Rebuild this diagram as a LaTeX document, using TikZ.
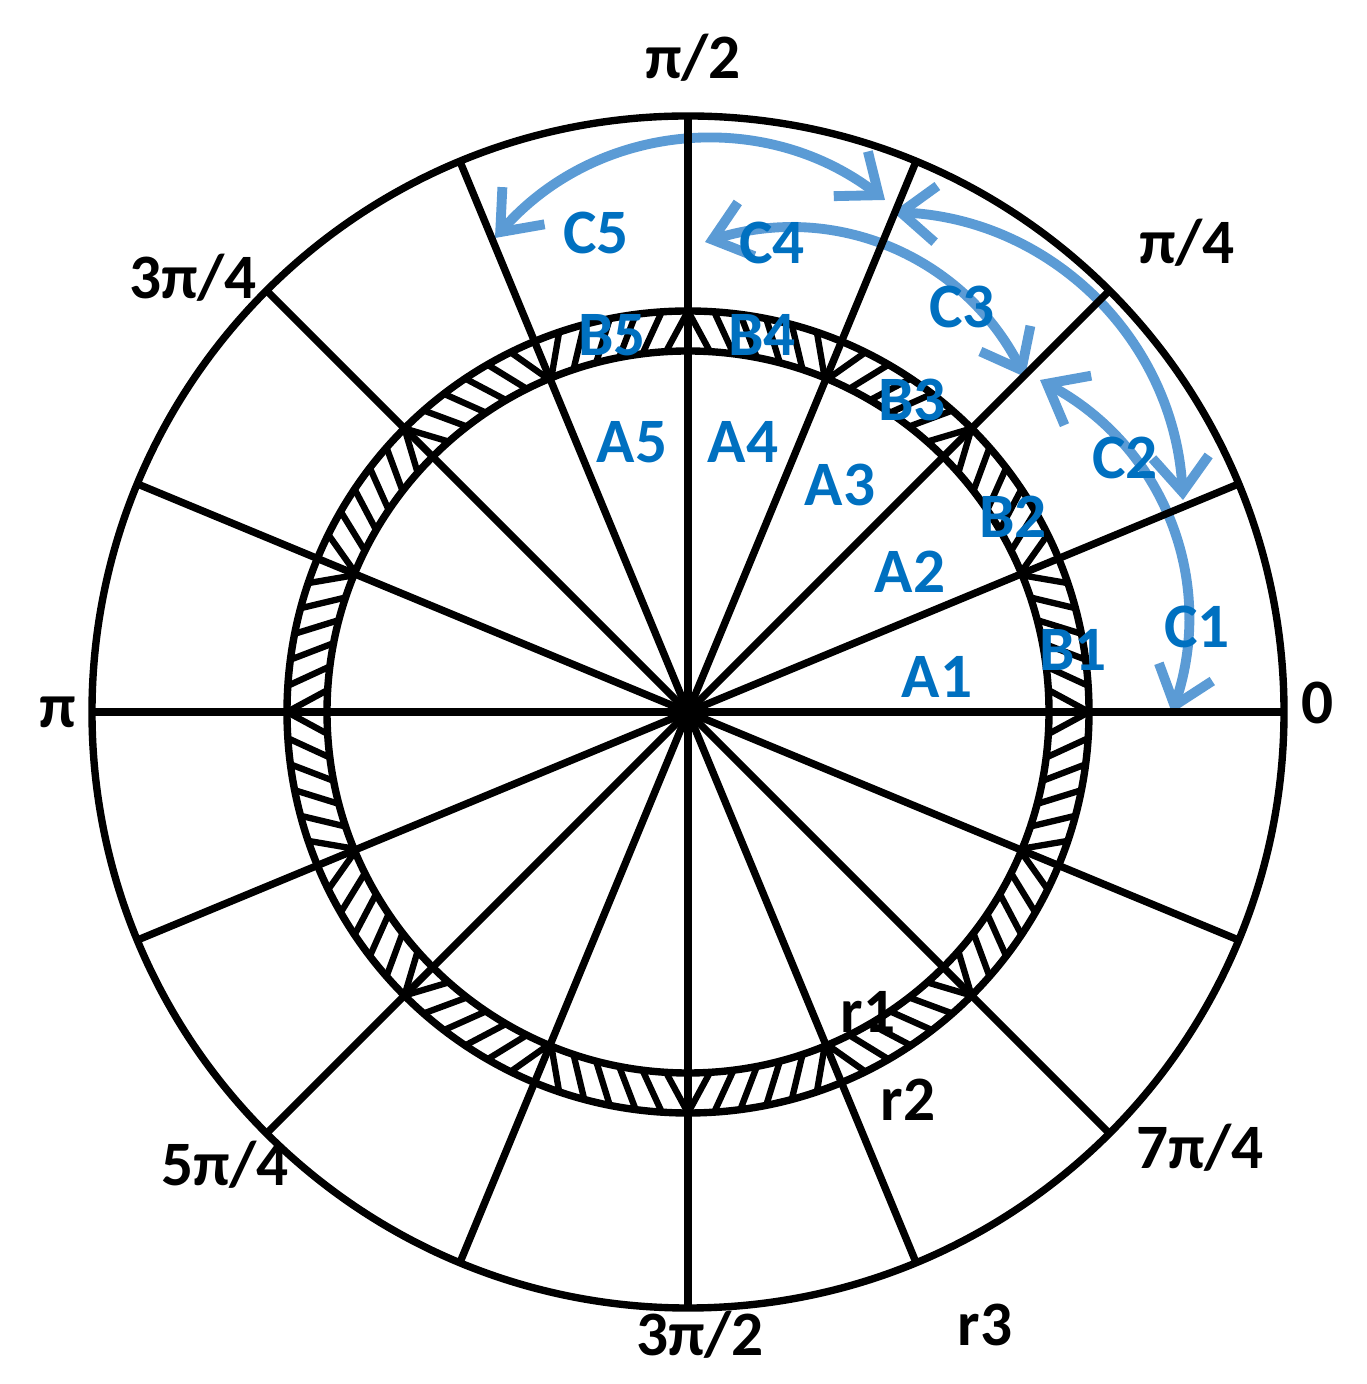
\documentclass[tikz,border=0pt]{standalone}
\usepackage{fontspec}
\setmainfont{Carlito}
\usepackage{tikz}
\usetikzlibrary{arrows.meta}
\definecolor{azulclaro}{HTML}{5B9BD5}
\definecolor{azul}{HTML}{0070C0}
\tikzstyle{rotulo}=[font=\fontsize{18}{20}\selectfont\bfseries, inner sep=0pt]
\tikzstyle{rotuloazul}=[rotulo, text=azul]
\tikzstyle{seta}=[draw=azulclaro, line width=2.8pt, {Straight Barb[length=10pt,width=16pt]}-{Straight Barb[length=10pt,width=16pt]}]

\begin{document}
\begin{tikzpicture}[line width=2.1pt]
			\useasboundingbox (-6.88,-6.72) rectangle (6.78,7.12);
			% setas azuis
			\coordinate (p1) at (-1.93,4.74);
			\coordinate (p2) at (1.97,5.12);
			\coordinate (q1) at (0.17,4.70);
			\coordinate (q2) at (3.37,3.35);
			\coordinate (s1) at (2.05,5.00);
			\coordinate (s2) at (4.95,2.12);
			\coordinate (t1) at (3.52,3.32);
			\coordinate (t2) at (4.84,-0.01);
			\path[seta] (p1) to[bend left=43] (p2);
			\path[seta] (q1) to[bend left=40] (q2);
			\path[seta] (s1) to[bend left=42] (s2);
			\path[seta] (t1) to[bend left=40] (t2);
			% circulos e raios
			\path[draw=black]
				(0,0) circle (5.96)
				(0,0) circle (4.01)
				(0,0) circle (3.61);
			\foreach \a in {0,22.5,...,337.5}
				\path[draw=black] (0,0) -- (\a:5.96);
			% hachura do anel
			\foreach \k in {0,...,15}{
				\pgfmathsetmacro\sg{1-2*mod(\k,2)}
				\pgfmathsetmacro\L{22.5*(\k+mod(\k,2))}
				\foreach \i in {0,...,5}{
					\pgfmathsetmacro\ai{\L+\sg*(3.5+3.75*\i)}
					\pgfmathsetmacro\ao{\L+\sg*3.75*\i}
					\path[draw=black, line width=1.8pt] (\ai:3.61) -- (\ao:4.01);
				}
			}
			% angulos e raios
			\node[rotulo] (ang0) at (6.30,0.09) {0};
			\node[rotulo] (ang1) at (4.99,4.69) {π/4};
			\node[rotulo] (ang2) at (0.05,6.54) {π/2};
			\node[rotulo] (ang3) at (-4.95,4.34) {3π/4};
			\node[rotulo] (ang4) at (-6.30,0) {π};
			\node[rotulo] (ang5) at (-4.63,-4.53) {5π/4};
			\node[rotulo] (ang6) at (0.12,-6.23) {3π/2};
			\node[rotulo] (ang7) at (5.12,-4.36) {7π/4};
			\node[rotulo] (r1) at (1.80,-3.00) {r1};
			\node[rotulo] (r2) at (2.20,-3.88) {r2};
			\node[rotulo] (r3) at (2.97,-6.13) {r3};
			% regioes
			\node[rotuloazul] (a1) at (2.49,0.35) {A1};
			\node[rotuloazul] (a2) at (2.22,1.40) {A2};
			\node[rotuloazul] (a3) at (1.52,2.27) {A3};
			\node[rotuloazul] (a4) at (0.55,2.70) {A4};
			\node[rotuloazul] (a5) at (-0.56,2.70) {A5};
			\node[rotuloazul] (b1) at (3.85,0.62) {B1};
			\node[rotuloazul] (b2) at (3.25,1.95) {B2};
			\node[rotuloazul] (b3) at (2.24,3.12) {B3};
			\node[rotuloazul] (b4) at (0.74,3.77) {B4};
			\node[rotuloazul] (b5) at (-0.76,3.77) {B5};
			\node[rotuloazul] (c1) at (5.09,0.85) {C1};
			\node[rotuloazul] (c2) at (4.37,2.54) {C2};
			\node[rotuloazul] (c3) at (2.74,4.05) {C3};
			\node[rotuloazul] (c4) at (0.84,4.69) {C4};
			\node[rotuloazul] (c5) at (-0.92,4.79) {C5};
		\end{tikzpicture}
\end{document}
